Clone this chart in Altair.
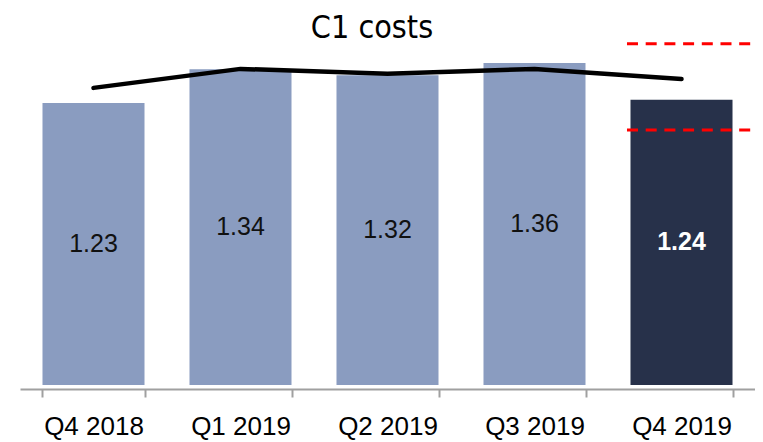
import altair as alt
import pandas as pd

quarters = ["Q4 2018", "Q1 2019", "Q2 2019", "Q3 2019", "Q4 2019"]
c1_costs = [1.23, 1.34, 1.32, 1.36, 1.24]
trend_line = [1.279, 1.341, 1.325, 1.341, 1.308]
kinds = ["past", "past", "past", "past", "current"]
guidance_quarter = ["Q4 2019", "Q4 2019"]
guidance_values = [1.423, 1.142]

Y_MIN = 0.31
Y_MAX = 1.52

bars_df = pd.DataFrame({"quarter": quarters, "cost": c1_costs,
                        "trend": trend_line, "kind": kinds})
guid_df = pd.DataFrame({"quarter": guidance_quarter, "value": guidance_values})

x_scale = alt.Scale(domain=quarters, paddingInner=0.306, paddingOuter=0.153)
y_scale = alt.Scale(domain=[Y_MIN, Y_MAX], zero=False, nice=False)

x_axis = alt.Axis(title=None, labelAngle=0, labelFont="Liberation Sans", labelFontSize=26,
                  labelColor="#000000", labelPadding=16, tickSize=8, tickWidth=2,
                  tickColor="#A0A0A0", domainColor="#A0A0A0", domainWidth=2,
                  tickBand="extent", offset=4, grid=False)

base = alt.Chart(bars_df)

bars = base.mark_bar().encode(
    x=alt.X("quarter:N", scale=x_scale, axis=x_axis, sort=quarters),
    y=alt.Y("cost:Q", scale=y_scale, axis=None),
    y2=alt.datum(Y_MIN),
    color=alt.Color("kind:N", scale=alt.Scale(domain=["past", "current"],
                                              range=["#8A9CC0", "#27314A"]), legend=None),
)

labels_past = base.transform_filter("datum.kind == 'past'").transform_calculate(
    mid=f"({Y_MIN} + datum.cost) / 2"
).mark_text(font="Liberation Sans", fontSize=25, color="#111111", baseline="middle").encode(
    x=alt.X("quarter:N", scale=x_scale, sort=quarters),
    y=alt.Y("mid:Q", scale=y_scale, axis=None),
    text=alt.Text("cost:Q", format=".2f"),
)

labels_cur = base.transform_filter("datum.kind == 'current'").transform_calculate(
    mid=f"({Y_MIN} + datum.cost) / 2"
).mark_text(font="Liberation Sans", fontSize=25, fontWeight="bold", color="#FFFFFF",
            baseline="middle").encode(
    x=alt.X("quarter:N", scale=x_scale, sort=quarters),
    y=alt.Y("mid:Q", scale=y_scale, axis=None),
    text=alt.Text("cost:Q", format=".2f"),
)

line = base.mark_line(color="#000000", strokeWidth=4.5, strokeCap="round",
                      strokeJoin="round").encode(
    x=alt.X("quarter:N", scale=x_scale, sort=quarters),
    y=alt.Y("trend:Q", scale=y_scale, axis=None),
)

rules = alt.Chart(guid_df).mark_rule(color="#FF0000", strokeWidth=3, strokeDash=[11, 7.7],
                                     xOffset=-3.5, x2Offset=30).encode(
    x=alt.X("quarter:N", scale=x_scale, sort=quarters, bandPosition=0),
    x2=alt.X2("quarter", bandPosition=1),
    y=alt.Y("value:Q", scale=y_scale, axis=None),
)

chart = alt.layer(bars, labels_past, labels_cur, line, rules).properties(
    width=735,
    height=371,
    autosize=alt.AutoSizeParams(type="none"),
    padding={"left": 12, "top": 6, "right": 0, "bottom": 57},
    title=alt.Title("C1 costs", font="DejaVu Sans Condensed", fontSize=32,
                    fontWeight="normal", color="#000000", anchor="middle",
                    baseline="alphabetic", offset=-56, dx=-15.5),
).configure_view(stroke=None)

chart.save("out.html", embed_options={"renderer": "svg", "actions": False})
